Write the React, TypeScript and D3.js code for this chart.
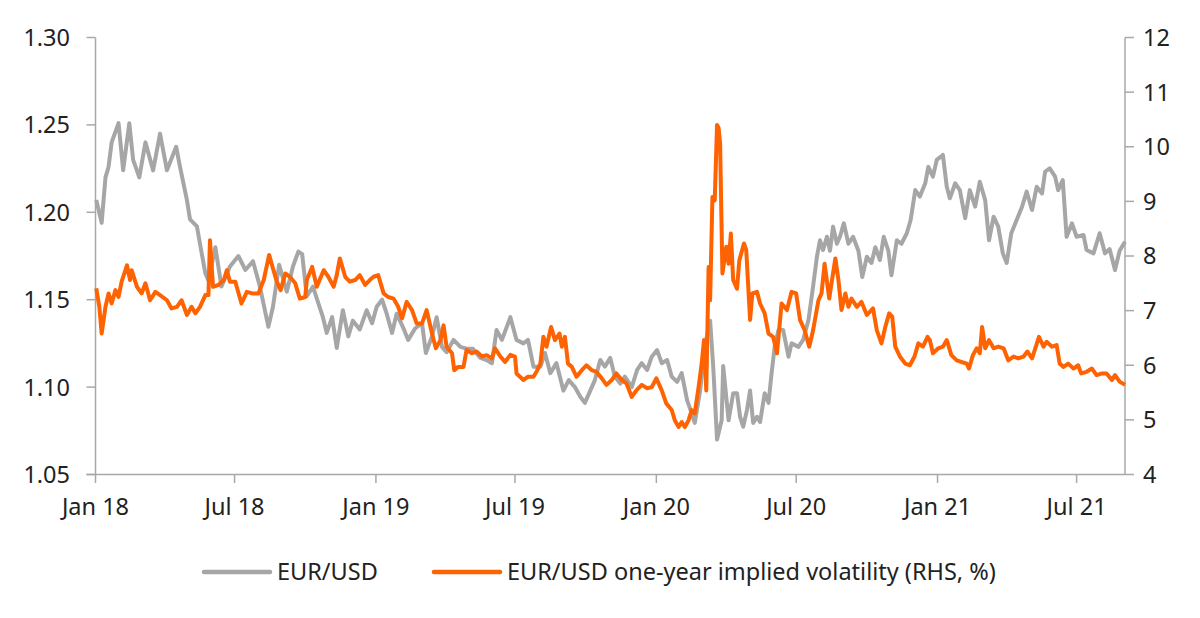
import React from "react";
import * as d3 from "d3";

// Day offsets are days since 1 Jan 2018
const eurusd: [number, number][] = [
  [1,1.207],[8,1.194],[13,1.220],[17,1.226],[21,1.240],[30,1.251],[36,1.224],[44,1.251],[49,1.230],[57,1.220],
  [65,1.240],[75,1.224],[84,1.245],[93,1.224],[105,1.2375],[110,1.226],[119,1.207],[123,1.196],[132,1.192],[136,1.182],
  [143,1.165],[147,1.161],[156,1.180],[164,1.1575],[175,1.169],[186,1.175],[195,1.167],[205,1.172],[214,1.1575],[225,1.1345],
  [231,1.146],[239,1.170],[249,1.1546],[257,1.169],[264,1.1775],[269,1.176],[275,1.152],[283,1.1575],[290,1.148],[296,1.140],
  [301,1.131],[308,1.140],[314,1.1224],[322,1.144],[329,1.129],[335,1.138],[344,1.133],[353,1.144],[360,1.1365],[366,1.146],
  [373,1.150],[379,1.142],[386,1.131],[392,1.142],[400,1.1345],[407,1.127],[416,1.1335],[425,1.1366],[430,1.1195],[438,1.129],
  [444,1.140],[451,1.123],[457,1.120],[466,1.127],[475,1.123],[483,1.122],[491,1.122],[501,1.1167],[509,1.1155],[516,1.1137],
  [522,1.1327],[529,1.127],[540,1.140],[548,1.127],[557,1.125],[563,1.127],[570,1.1117],[579,1.1117],[585,1.1195],[592,1.108],
  [600,1.1137],[609,1.098],[616,1.104],[624,1.100],[631,1.0945],[637,1.091],[644,1.098],[650,1.104],[657,1.1155],[663,1.1117],
  [670,1.1167],[676,1.106],[683,1.102],[689,1.106],[698,1.100],[705,1.1098],[711,1.1137],[718,1.1098],[724,1.1174],[731,1.1212],
  [737,1.1137],[744,1.1155],[750,1.106],[757,1.103],[763,1.108],[770,1.0926],[776,1.085],[780,1.0795],[787,1.098],[793,1.123],
  [800,1.138],[804,1.112],[809,1.070],[815,1.081],[817,1.112],[824,1.081],[830,1.0965],[835,1.0965],[839,1.083],[843,1.0773],
  [848,1.087],[852,1.098],[856,1.0795],[861,1.083],[865,1.080],[871,1.0965],[876,1.091],[880,1.108],[884,1.123],[889,1.1327],
  [895,1.1327],[902,1.1174],[906,1.125],[915,1.123],[921,1.127],[928,1.1384],[934,1.1575],[939,1.1746],[943,1.184],[947,1.1784],
  [952,1.186],[956,1.178],[960,1.1918],[965,1.182],[969,1.186],[974,1.1937],[980,1.182],[986,1.186],[993,1.178],[998,1.163],
  [1004,1.1746],[1010,1.171],[1015,1.180],[1021,1.1727],[1026,1.186],[1032,1.178],[1036,1.164],[1043,1.184],[1049,1.182],[1056,1.188],
  [1061,1.1956],[1067,1.2127],[1073,1.209],[1080,1.2166],[1084,1.226],[1090,1.2204],[1095,1.230],[1103,1.2328],[1108,1.2146],[1112,1.208],
  [1119,1.2166],[1125,1.2127],[1132,1.1966],[1138,1.2127],[1145,1.2032],[1151,1.2175],[1158,1.207],[1163,1.184],[1169,1.1975],[1175,1.1918],
  [1181,1.1765],[1186,1.171],[1192,1.188],[1199,1.1956],[1206,1.2032],[1212,1.2118],[1219,1.2013],[1225,1.2146],[1232,1.2108],[1236,1.2232],
  [1242,1.2252],[1249,1.2204],[1253,1.2127],[1259,1.2185],[1264,1.186],[1271,1.1937],[1277,1.186],[1286,1.187],[1290,1.1784],[1299,1.1765],
  [1307,1.188],[1314,1.1765],[1320,1.179],[1327,1.167],[1333,1.178],[1340,1.1832],
];

const impliedVol: [number, number][] = [
  [1,7.406],[5,7.07],[8,6.58],[13,7.07],[17,7.315],[21,7.13],[26,7.375],[30,7.25],[34,7.53],[41,7.83],
  [45,7.56],[47,7.74],[54,7.436],[60,7.315],[65,7.50],[71,7.19],[78,7.344],[84,7.284],[93,7.19],[99,7.04],
  [106,7.07],[112,7.19],[119,6.92],[125,7.07],[130,6.95],[136,7.07],[143,7.284],[147,7.284],[149,8.29],[153,7.436],
  [160,7.47],[167,7.56],[171,7.74],[175,7.53],[182,7.53],[190,7.13],[197,7.344],[204,7.315],[212,7.315],[219,7.56],
  [226,8.02],[231,7.77],[236,7.53],[241,7.375],[247,7.68],[253,7.62],[260,7.50],[266,7.22],[273,7.25],[275,7.56],
  [282,7.80],[288,7.436],[297,7.74],[303,7.62],[310,7.436],[314,7.65],[318,7.956],[325,7.62],[331,7.53],[338,7.56],
  [344,7.65],[351,7.47],[357,7.56],[362,7.62],[368,7.65],[375,7.315],[381,7.25],[388,7.22],[394,7.07],[399,6.857],
  [405,7.16],[412,7.01],[418,6.766],[425,6.766],[431,7.01],[438,6.58],[443,6.31],[449,6.46],[453,6.73],[457,6.34],
  [464,6.22],[467,5.91],[472,5.97],[479,5.97],[483,6.28],[490,6.22],[496,6.25],[503,6.16],[509,6.185],[516,6.125],
  [520,6.31],[527,6.16],[533,6.06],[540,6.19],[546,6.16],[548,5.85],[557,5.73],[563,5.79],[570,5.79],[574,5.88],
  [579,6.03],[583,6.52],[587,6.34],[593,6.70],[598,6.46],[604,6.58],[607,6.34],[611,6.52],[615,6.03],[620,5.97],
  [626,5.79],[633,5.91],[639,6.00],[646,5.91],[652,5.88],[659,5.76],[665,5.64],[672,5.73],[678,5.85],[685,5.73],
  [691,5.67],[698,5.42],[704,5.54],[711,5.64],[718,5.58],[724,5.60],[730,5.76],[737,5.54],[743,5.30],[750,5.18],
  [754,4.995],[759,4.87],[763,4.96],[767,4.87],[772,4.995],[776,5.18],[780,5.12],[785,5.60],[789,6.03],[792,6.46],
  [795,5.54],[798,7.80],[800,7.19],[803,9.08],[806,9.02],[809,10.40],[811,10.35],[813,10.06],[816,7.68],[821,8.17],
  [824,7.86],[827,8.41],[830,7.56],[835,7.40],[838,7.92],[844,8.23],[847,8.11],[852,6.83],[855,7.315],[861,7.344],
  [865,7.13],[871,6.95],[876,6.58],[882,6.52],[887,6.22],[893,7.13],[900,7.01],[906,7.344],[912,7.315],[917,6.83],
  [923,6.64],[929,6.34],[934,6.64],[941,7.19],[945,7.315],[949,7.86],[955,7.22],[958,7.50],[963,7.956],[967,7.56],
  [971,7.01],[976,7.315],[980,7.07],[984,7.22],[991,7.07],[997,7.16],[1004,6.92],[1012,7.04],[1017,6.64],[1023,6.40],
  [1028,6.70],[1033,6.95],[1037,6.89],[1041,6.34],[1047,6.16],[1054,6.03],[1060,6.00],[1066,6.16],[1071,6.40],[1077,6.34],
  [1083,6.52],[1086,6.46],[1090,6.22],[1097,6.31],[1103,6.34],[1108,6.46],[1114,6.185],[1121,6.09],[1127,6.06],[1134,6.03],
  [1137,5.94],[1142,6.185],[1147,6.31],[1151,6.22],[1154,6.70],[1158,6.31],[1163,6.46],[1169,6.31],[1175,6.34],[1182,6.31],
  [1188,6.09],[1195,6.16],[1201,6.125],[1208,6.16],[1213,6.25],[1219,6.125],[1224,6.34],[1228,6.52],[1234,6.34],[1238,6.43],
  [1245,6.34],[1251,6.37],[1255,6.03],[1260,5.97],[1266,6.03],[1273,5.94],[1279,6.00],[1283,5.85],[1290,5.88],[1297,5.94],
  [1303,5.82],[1310,5.85],[1316,5.85],[1323,5.73],[1327,5.82],[1333,5.70],[1340,5.64],
];

const leftTicks = [1.05, 1.10, 1.15, 1.20, 1.25, 1.30];
const rightTicks = [4, 5, 6, 7, 8, 9, 10, 11, 12];
const xTickDates = ["2018-01-01","2018-07-01","2019-01-01","2019-07-01","2020-01-01","2020-07-01","2021-01-01","2021-07-01"];
const xTickLabels = ["Jan 18","Jul 18","Jan 19","Jul 19","Jan 20","Jul 20","Jan 21","Jul 21"];
const legendLabels = ["EUR/USD", "EUR/USD one-year implied volatility (RHS, %)"];

const W = 1200, H = 618;
const GRAY = "#a6a6a6", ORANGE = "#ff6200", AXIS = "#a8a8a8", TEXT = "#222";
const FONT = "'Noto Sans', sans-serif";
const FS = 23.5;

const start = new Date(2018, 0, 1);
const toDate = (d: number) => d3.timeDay.offset(start, d);

export default function App() {
  const x = d3.scaleTime().domain([start, toDate(1340)]).range([95.5, 1125]);
  const yL = d3.scaleLinear().domain([1.05, 1.30]).range([474.5, 37.5]);
  const yR = d3.scaleLinear().domain([4, 12]).range([474.5, 37.5]);
  const lineL = d3.line<[number, number]>().x(d => x(toDate(d[0]))).y(d => yL(d[1])).curve(d3.curveLinear);
  const lineR = d3.line<[number, number]>().x(d => x(toDate(d[0]))).y(d => yR(d[1])).curve(d3.curveLinear);
  const parse = d3.timeParse("%Y-%m-%d");
  const x0 = x.range()[0], x1 = x.range()[1];
  return (
    <svg width={W} height={H} style={{ position: "absolute", left: 0, top: 0, background: "#fff" }} fontFamily={FONT}>
      {/* left axis */}
      <line x1={x0} x2={x0} y1={37.5} y2={474.5} stroke={AXIS} strokeWidth={1.5} />
      {leftTicks.map(t => (
        <g key={"l" + t}>
          <line x1={x0 - 9} x2={x0} y1={yL(t)} y2={yL(t)} stroke={AXIS} strokeWidth={1.5} />
          <text x={70} y={yL(t)} dy="0.36em" textAnchor="end" fontSize={FS} fill={TEXT}>{t.toFixed(2)}</text>
        </g>
      ))}
      {/* right axis */}
      <line x1={x1} x2={x1} y1={37.5} y2={474.5} stroke={AXIS} strokeWidth={1.5} />
      {rightTicks.map(t => (
        <g key={"r" + t}>
          <line x1={x1} x2={x1 + 9} y1={yR(t)} y2={yR(t)} stroke={AXIS} strokeWidth={1.5} />
          <text x={1143} y={yR(t)} dy="0.36em" textAnchor="start" fontSize={FS} fill={TEXT}>{t}</text>
        </g>
      ))}
      {/* bottom axis */}
      <line x1={x0 - 9} x2={x1} y1={474.5} y2={474.5} stroke={AXIS} strokeWidth={1.5} />
      {xTickDates.map((s, i) => {
        const xx = x(parse(s)!);
        return (
          <g key={s}>
            <line x1={xx} x2={xx} y1={474.5} y2={483} stroke={AXIS} strokeWidth={1.5} />
            <text x={xx} y={515} textAnchor="middle" fontSize={FS} fill={TEXT}>{xTickLabels[i]}</text>
          </g>
        );
      })}
      {/* series */}
      <path d={lineL(eurusd)!} fill="none" stroke={GRAY} strokeWidth={4} strokeLinejoin="round" />
      <path d={lineR(impliedVol)!} fill="none" stroke={ORANGE} strokeWidth={4} strokeLinejoin="round" />
      {/* legend */}
      <line x1={204} x2={270} y1={572} y2={572} stroke={GRAY} strokeWidth={4.5} strokeLinecap="round" />
      <text x={277} y={572} dy="0.36em" fontSize={FS} fill={TEXT}>{legendLabels[0]}</text>
      <line x1={434} x2={500} y1={572} y2={572} stroke={ORANGE} strokeWidth={4.5} strokeLinecap="round" />
      <text x={507} y={572} dy="0.36em" fontSize={FS} fill={TEXT}>{legendLabels[1]}</text>
    </svg>
  );
}
